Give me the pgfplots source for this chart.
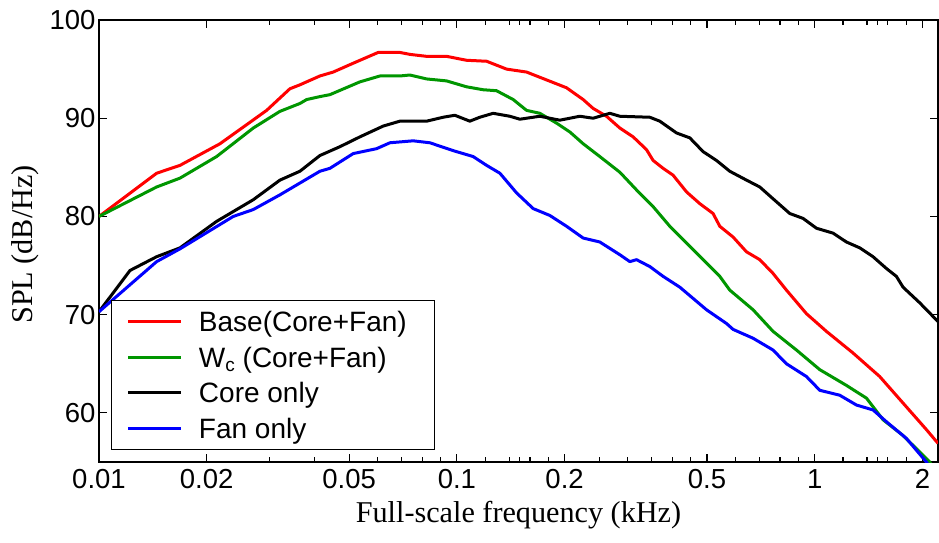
\documentclass[border=0pt]{standalone}
\usepackage{pgfplots}
\pgfplotsset{compat=1.18}
\usepackage{pgfplotstable}
\usepackage{fontspec}
\setmainfont{Liberation Serif}
\newfontfamily\arial{Liberation Sans}
\definecolor{mred}{RGB}{255,0,0}
\definecolor{mgreen}{RGB}{0,150,0}
\definecolor{mblue}{RGB}{0,0,255}

\pgfplotstableread{
f spl
0.01 80.0
0.01449 84.4
0.01684 85.2
0.02178 87.4
0.02941 90.8
0.03416 93.0
0.03643 93.4
0.04142 94.3
0.04513 94.7
0.05133 95.6
0.06029 96.7
0.0693 96.7
0.07391 96.5
0.08231 96.3
0.09359 96.3
0.1064 95.9
0.1211 95.8
0.1377 95.0
0.1566 94.7
0.1781 93.9
0.2025 93.1
0.2254 91.9
0.2403 91.0
0.2619 90.2
0.2854 89.0
0.3109 88.1
0.3388 86.8
0.3535 85.7
0.3770 84.9
0.4020 84.2
0.4382 82.5
0.4774 81.3
0.5199 80.3
0.5428 79.0
0.5914 77.9
0.6445 76.4
0.7021 75.6
0.7647 74.2
0.8335 72.5
0.948 70.1
1.078 68.3
1.279 66.1
1.519 63.7
1.765 61.0
2.051 58.3
2.21 56.9
}\base

\pgfplotstableread{
f spl
0.01 80.0
0.01449 83.0
0.01684 83.9
0.02132 86.1
0.02698 89.0
0.03204 90.7
0.03643 91.5
0.03804 91.9
0.04142 92.2
0.04419 92.4
0.05358 93.7
0.06095 94.3
0.0693 94.3
0.07391 94.4
0.08231 94.0
0.09359 93.8
0.1064 93.2
0.1184 92.9
0.1291 92.8
0.1437 91.9
0.1566 90.8
0.1706 90.5
0.1899 89.5
0.2069 88.6
0.2254 87.4
0.2508 86.1
0.2854 84.5
0.3177 82.7
0.3535 81.0
0.3936 79.0
0.4382 77.3
0.4875 75.6
0.5428 73.9
0.5789 72.5
0.6725 70.5
0.7647 68.3
0.8890 66.4
1.033 64.4
1.226 62.8
1.395 61.5
1.552 59.3
1.765 57.7
2.096 55.0
2.15 54.3
}\wc

\pgfplotstableread{
f spl
0.01 70.3
0.01221 74.5
0.01449 75.9
0.01684 76.8
0.02132 79.5
0.02698 81.7
0.03204 83.7
0.03643 84.6
0.04142 86.2
0.04711 87.1
0.05358 88.1
0.06225 89.2
0.0693 89.7
0.08231 89.7
0.09157 90.1
0.09872 90.3
0.1087 89.7
0.1159 90.1
0.1263 90.5
0.1406 90.2
0.1500 89.9
0.1706 90.2
0.1940 89.8
0.2206 90.2
0.2403 90.0
0.2676 90.5
0.2854 90.2
0.3460 90.1
0.3690 89.7
0.4109 88.5
0.4476 88.0
0.4875 86.6
0.5314 85.7
0.5789 84.6
0.6445 83.7
0.7021 83.0
0.7647 81.8
0.8515 80.3
0.9276 79.8
1.011 78.8
1.125 78.3
1.226 77.4
1.336 76.8
1.455 75.9
1.586 74.7
1.691 73.9
1.765 72.8
1.966 71.2
2.21 69.3
}\core

\pgfplotstableread{
f spl
0.01 70.3
0.01449 75.4
0.01684 76.7
0.02372 80.0
0.02698 80.7
0.03204 82.2
0.03643 83.4
0.04142 84.6
0.04419 84.9
0.05133 86.4
0.05967 86.9
0.06499 87.5
0.07549 87.7
0.08407 87.5
0.09765 86.7
0.1110 86.1
0.1211 85.2
0.1319 84.4
0.1468 82.4
0.1634 80.8
0.1819 80.1
0.2025 79.0
0.2254 77.8
0.2508 77.4
0.2854 76.1
0.3043 75.4
0.3177 75.6
0.3460 74.9
0.3770 73.9
0.4197 72.8
0.4983 70.5
0.5668 69.1
0.5914 68.5
0.6725 67.6
0.7647 66.4
0.8335 65.0
0.948 63.7
1.033 62.3
1.174 61.8
1.308 60.8
1.455 60.3
1.586 59.1
1.804 57.4
2.051 55.0
2.10 54.4
}\fan

\begin{document}
\begin{tikzpicture}
\useasboundingbox (-99pt,-81pt) rectangle (840pt,462pt);
\begin{axis}[
  at={(0pt,0pt)}, anchor=south west,
  scale only axis, width=839pt, height=442pt,
  xmode=log, xmin=0.01, xmax=2.21, ymin=55, ymax=100,
  xtick={0.01,0.02,0.05,0.1,0.2,0.5,1,2},
  xticklabels={0.01,0.02,0.05,0.1,0.2,0.5,1,2},
  minor xtick={0.03,0.04,0.06,0.07,0.08,0.09,0.12,0.14,0.15,0.16,0.18,0.25,0.3,0.35,0.4,0.45,0.6,0.7,0.8,0.9,1.2,1.4,1.5,1.6,1.8},
  ytick={60,70,80,90,100}, yticklabels={60,70,80,90,100},
  minor ytick={},
  tick align=inside,
  major tick length=8pt, minor tick length=5pt,
  every tick/.style={black, line width=1.2pt},
  axis line style={line width=1.6pt},
  ticklabel style={font=\arial\fontsize{27.5}{30}\selectfont},
  xticklabel style={yshift=-4pt},
  xlabel={Full-scale frequency (kHz)}, ylabel={SPL (dB/Hz)},
  label style={font=\fontsize{30.2}{33}\selectfont},
  xlabel style={at={(axis description cs:0.5,0)}, anchor=base, yshift=-60pt},
  ylabel style={at={(axis description cs:0,0.5)}, anchor=center, xshift=-3.5pt, yshift=73.5pt},
  legend style={at={(0,0)}, anchor=south west, xshift=12.5pt, yshift=12.5pt,
    draw=black, line width=1pt, inner xsep=15pt, inner ysep=11pt,
    font=\arial\fontsize{28}{30}\selectfont, column sep=16pt, row sep=15.5pt,
    nodes={inner sep=0pt, text height=20pt, text depth=0pt}},
  legend cell align=left,
  legend image code/.code={\draw[#1, line width=3pt] (0pt,0pt) -- (53pt,0pt);},
  every axis plot/.append style={line width=3pt, line join=round},
]
\addplot[mred] table[x=f, y=spl] {\base};
\addplot[mgreen] table[x=f, y=spl] {\wc};
\addplot[black] table[x=f, y=spl] {\core};
\addplot[mblue] table[x=f, y=spl] {\fan};
\legend{Base(Core+Fan)\hspace*{13pt}, W\raisebox{-4pt}{\fontsize{19}{19}\selectfont c} (Core+Fan), Core only, Fan only}
\end{axis}
\end{tikzpicture}
\end{document}
